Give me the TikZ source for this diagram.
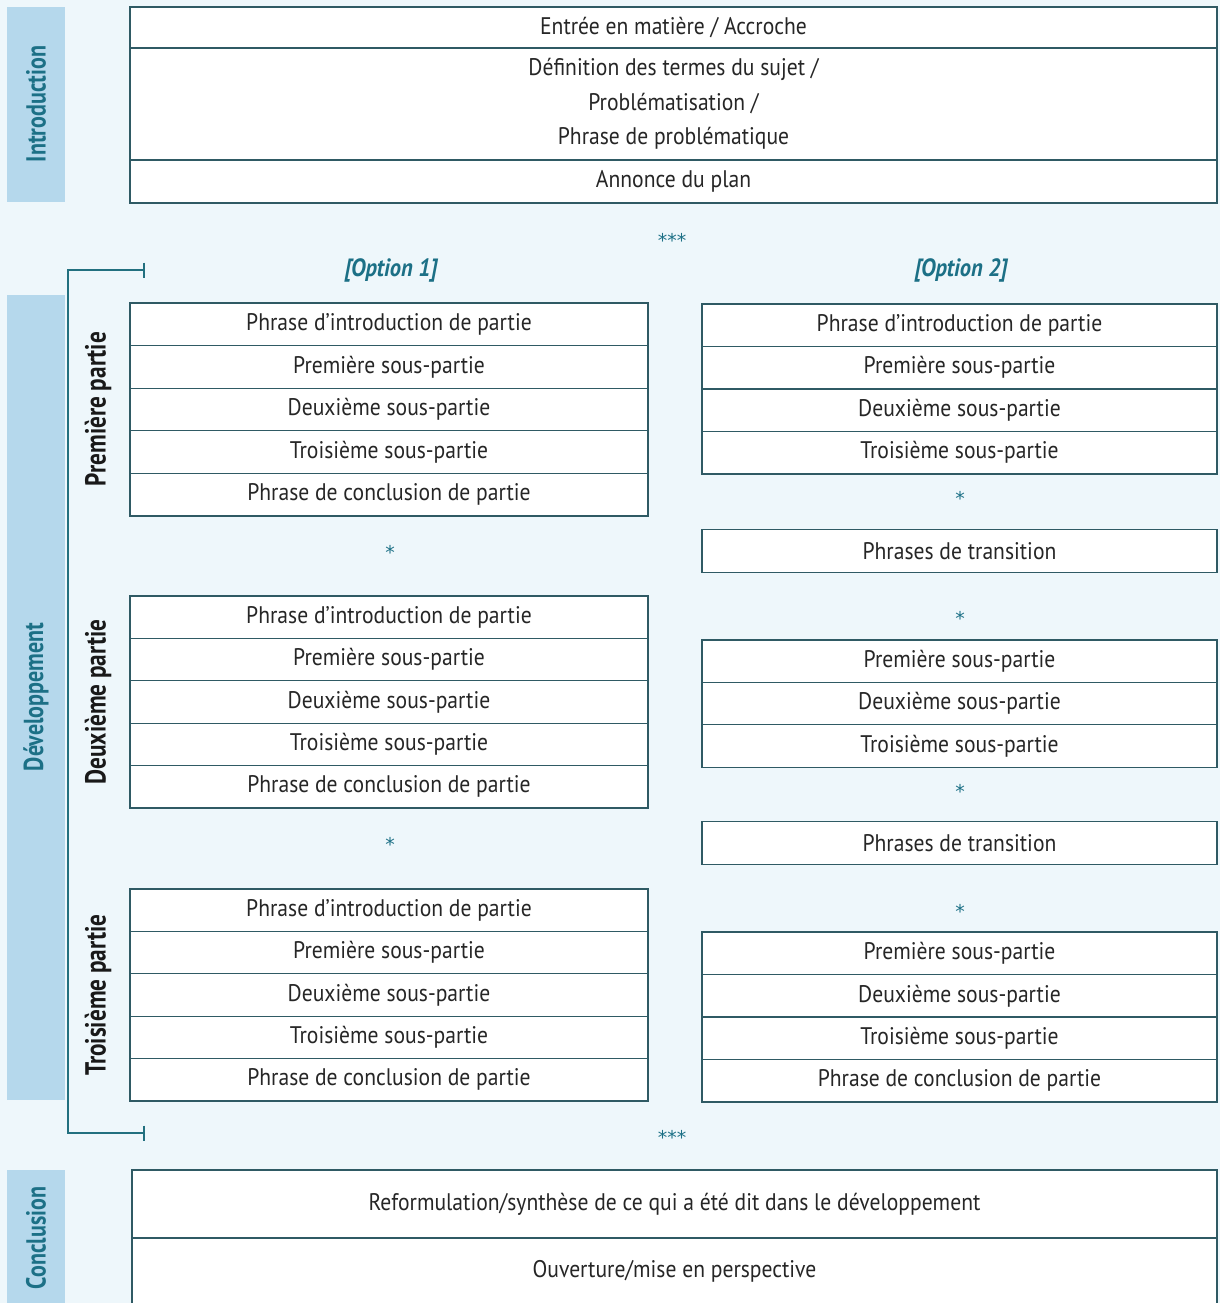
\documentclass[tikz,border=0pt]{standalone}
\usepackage{fontspec}
\setmainfont[FakeStretch=0.9]{PT Sans}
\newfontfamily\labfont[FakeStretch=0.80]{PT Sans}
\newfontfamily\starfont{DejaVu Sans}
\usetikzlibrary{arrows.meta}
\definecolor{bgc}{HTML}{EEF7FB}
\definecolor{bandc}{HTML}{B5D8EC}
\definecolor{tealc}{HTML}{1C7086}
\definecolor{borderc}{HTML}{2F5A64}
\definecolor{brackc}{HTML}{22707F}
\tikzset{
  row/.style={draw=borderc, line width=1.3pt, fill=white, inner sep=0pt,
    minimum height=#1, font=\fontsize{24}{34.5}\selectfont, text=black!85, align=center},
  row/.default=42.6pt,
  band/.style={fill=bandc, draw=none},
  bandlab/.style={rotate=90, text=tealc, font=\labfont\bfseries\fontsize{27.5}{30}\selectfont},
  partlab/.style={rotate=90, text=black!90, font=\labfont\bfseries\fontsize{29}{32}\selectfont},
  star/.style={text=tealc, font=\starfont\fontsize{19}{21}\selectfont, inner sep=0pt},
  optlab/.style={text=tealc, font=\bfseries\itshape\fontsize{25}{28}\selectfont},
  bracket/.style={draw=brackc, line width=2pt}
}
\newcommand\mystack[6]{%
  \foreach \t [count=\i] in {#6} {%
    \node[row=#4 pt, minimum width=#5 pt] (#1-\i) at (#2, {#3+#4*(\i-0.5)}) {\t};
  }%
}
\begin{document}
\begin{tikzpicture}[x=1pt,y=-1pt]
\fill[bgc] (0,0) rectangle (1220,1303);
\useasboundingbox (0,0) rectangle (1220,1303);
% side bands
\fill[band] (7,7) rectangle (65,202);
\fill[band] (7,295) rectangle (65,1100);
\fill[band] (7,1170) rectangle (65,1303);
\node[bandlab] (bIntro) at (36,104) {Introduction};
\node[bandlab] (bDev) at (36,697) {Développement};
\node[bandlab] (bConc) at (36,1238) {Conclusion};
% introduction
\node[row=41pt, minimum width=1087pt] (I1) at (673.5,27.5) {Entrée en matière / Accroche};
\node[row=112pt, minimum width=1087pt] (I2) at (673.5,104) {Définition des termes du sujet /\\Problématisation /\\Phrase de problématique};
\node[row=43pt, minimum width=1087pt] (I3) at (673.5,181.5) {Annonce du plan};
\node[star] (s0) at (672,240) {***};
% bracket
\coordinate (bt) at (68,270);
\coordinate (bb) at (68,1133);
\coordinate (tt) at (145,270);
\coordinate (tb) at (145,1133);
\draw[bracket, {Bar[width=15pt]}-{Bar[width=15pt]}] (tt) -- (bt) -- (bb) -- (tb);
% options
\node[optlab] (o1) at (391,270) {[Option 1]};
\node[optlab] (o2) at (961,270) {[Option 2]};
% left column
\mystack{LA}{389}{303}{42.6}{518}{Phrase d’introduction de partie,Première sous-partie,Deuxième sous-partie,Troisième sous-partie,Phrase de conclusion de partie}
\node[star] (sl1) at (390,552) {*};
\mystack{LB}{389}{596}{42.4}{518}{Phrase d’introduction de partie,Première sous-partie,Deuxième sous-partie,Troisième sous-partie,Phrase de conclusion de partie}
\node[star] (sl2) at (390,844) {*};
\mystack{LC}{389}{889}{42.4}{518}{Phrase d’introduction de partie,Première sous-partie,Deuxième sous-partie,Troisième sous-partie,Phrase de conclusion de partie}
\node[partlab] (p1) at (98,409) {Première partie};
\node[partlab] (p2) at (98,702) {Deuxième partie};
\node[partlab] (p3) at (98,995) {Troisième partie};
% right column
\mystack{RA}{959.5}{304}{42.5}{515}{Phrase d’introduction de partie,Première sous-partie,Deuxième sous-partie,Troisième sous-partie}
\node[star] (sr1) at (960,498) {*};
\node[row, minimum width=515pt] (RT1) at (959.5,551) {Phrases de transition};
\node[star] (sr2) at (960,618) {*};
\mystack{RB}{959.5}{640}{42.4}{515}{Première sous-partie,Deuxième sous-partie,Troisième sous-partie}
\node[star] (sr3) at (960,791) {*};
\node[row, minimum width=515pt] (RT2) at (959.5,843) {Phrases de transition};
\node[star] (sr4) at (960,911) {*};
\mystack{RC}{959.5}{932}{42.5}{515}{Première sous-partie,Deuxième sous-partie,Troisième sous-partie,Phrase de conclusion de partie}
\node[star] (s5) at (672,1137) {***};
% conclusion
\node[row=68pt, minimum width=1085pt] (C1) at (674.5,1204) {Reformulation/synthèse de ce qui a été dit dans le développement};
\node[row=66pt, minimum width=1085pt] (C2) at (674.5,1271) {Ouverture/mise en perspective};
\end{tikzpicture}
\end{document}
